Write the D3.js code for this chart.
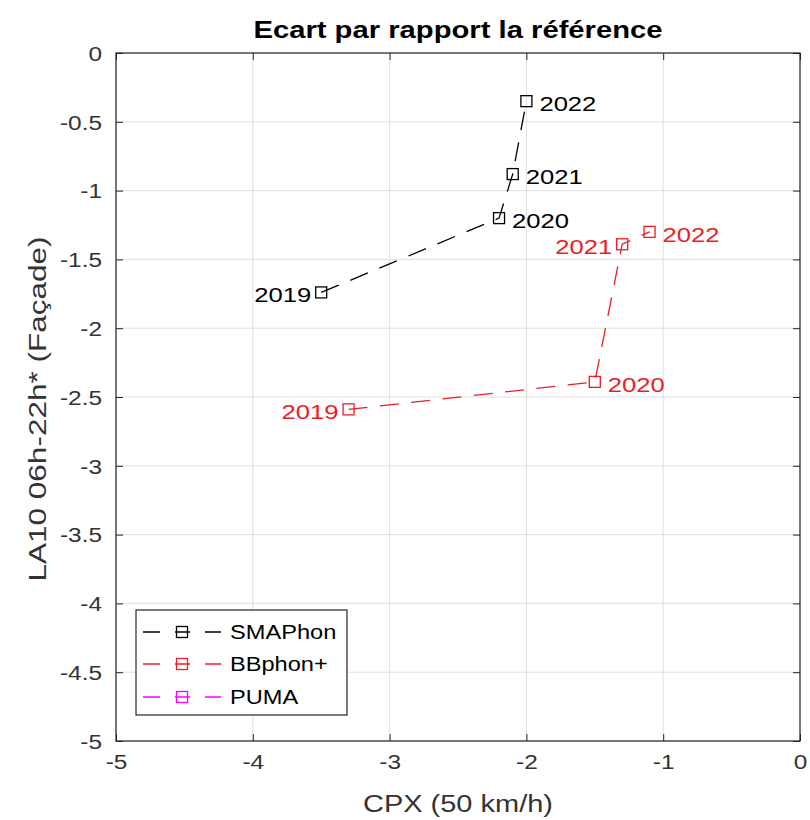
<!DOCTYPE html>
<html>
<head>
<meta charset="utf-8">
<script src="https://cdn.jsdelivr.net/npm/d3@7"></script>
<style>
  html, body { margin: 0; padding: 0; background: #fff; }
  svg { display: block; font-family: "Liberation Sans", Arial, Helvetica, sans-serif; }
</style>
</head>
<body>
<svg id="chart" width="810" height="820"></svg>
<script>
// ---- data ----
const years = ["2019", "2020", "2021", "2022"];
const smaphonX = [-3.5, -2.2, -2.1, -2.0];
const smaphonY = [-1.74, -1.2, -0.88, -0.35];
const bbphonX = [-3.3, -1.5, -1.3, -1.1];
const bbphonY = [-2.59, -2.39, -1.39, -1.3];
const pumaX = [];
const pumaY = [];
const seriesNames = ["SMAPhon", "BBphon+", "PUMA"];
const xTicks = [-5, -4, -3, -2, -1, 0];
const yTicks = [0, -0.5, -1, -1.5, -2, -2.5, -3, -3.5, -4, -4.5, -5];
const titleText = "Ecart par rapport la référence";
const xLabelText = "CPX (50 km/h)";
const yLabelText = "LA10 06h-22h* (Façade)";
// label side for each year label
const smaphonSides = ["left", "right", "right", "right"];
const bbphonSides = ["left", "right", "left", "right"];

// ---- layout ----
const L = 116, R = 800, T = 53, B = 741;
const axisColor = "#262626";
const gridColor = "#e0e0e0";
const colors = ["#000000", "#ee1c25", "#ff00ff"];

const svg = d3.select("#chart");
const x = d3.scaleLinear().domain([-5, 0]).range([L, R]);
const y = d3.scaleLinear().domain([0, -5]).range([T, B]);

function stretch(sel, k) {
  sel.each(function () {
    const len = this.getComputedTextLength();
    d3.select(this).attr("textLength", len * k).attr("lengthAdjust", "spacingAndGlyphs");
  });
}

// grid
const grid = svg.append("g");
grid.selectAll("line.gx").data(xTicks).join("line")
  .attr("x1", d => x(d)).attr("x2", d => x(d)).attr("y1", T).attr("y2", B)
  .attr("stroke", gridColor).attr("stroke-width", 1);
grid.selectAll("line.gy").data(yTicks).join("line")
  .attr("y1", d => y(d)).attr("y2", d => y(d)).attr("x1", L).attr("x2", R)
  .attr("stroke", gridColor).attr("stroke-width", 1);

// axes (ticks inside)
const tickLen = 7;
const fmt = d => String(d);
const xAxisB = d3.axisBottom(x).tickValues(xTicks).tickSizeInner(-tickLen).tickSizeOuter(0).tickPadding(14).tickFormat(fmt);
const xAxisT = d3.axisTop(x).tickValues(xTicks).tickSizeInner(-tickLen).tickSizeOuter(0).tickFormat("");
const yAxisL = d3.axisLeft(y).tickValues(yTicks).tickSizeInner(-tickLen).tickSizeOuter(0).tickPadding(14).tickFormat(fmt);
const yAxisR = d3.axisRight(y).tickValues(yTicks).tickSizeInner(-tickLen).tickSizeOuter(0).tickFormat("");

function styleAxis(g) {
  g.select(".domain").remove();
  g.selectAll(".tick line").attr("stroke", axisColor).attr("stroke-width", 1);
  g.selectAll(".tick text").attr("fill", "#333").style("font-size", "20px")
    .style("font-family", '"Liberation Sans", Arial, sans-serif');
}
const gxB = svg.append("g").attr("transform", `translate(0,${B})`).call(xAxisB).call(styleAxis);
gxB.selectAll(".tick text").attr("dy", "0.71em");
stretch(gxB.selectAll(".tick text"), 1.22);
svg.append("g").attr("transform", `translate(0,${T})`).call(xAxisT).call(styleAxis);
const gyL = svg.append("g").attr("transform", `translate(${L},0)`).call(yAxisL).call(styleAxis);
gyL.selectAll(".tick text").attr("dy", "0.36em");
stretch(gyL.selectAll(".tick text"), 1.22);
svg.append("g").attr("transform", `translate(${R},0)`).call(yAxisR).call(styleAxis);

// box
svg.append("rect").attr("x", L).attr("y", T).attr("width", R - L).attr("height", B - T)
  .attr("fill", "none").attr("stroke", axisColor).attr("stroke-width", 1.2);

// series
const series = [
  { name: seriesNames[0], xs: smaphonX, ys: smaphonY, sides: smaphonSides, color: colors[0] },
  { name: seriesNames[1], xs: bbphonX, ys: bbphonY, sides: bbphonSides, color: colors[1] },
  { name: seriesNames[2], xs: pumaX, ys: pumaY, sides: [], color: colors[2] }
];
const line = d3.line().x(d => x(d[0])).y(d => y(d[1]));
const ms = 11;
series.forEach(s => {
  const pts = s.xs.map((v, i) => [v, s.ys[i], years[i], s.sides[i]]);
  if (!pts.length) return;
  const g = svg.append("g");
  g.append("path").datum(pts).attr("d", line).attr("fill", "none")
    .attr("stroke", s.color).attr("stroke-width", 1.3).attr("stroke-dasharray", "19,12.5");
  g.selectAll("rect").data(pts).join("rect")
    .attr("x", d => x(d[0]) - ms / 2).attr("y", d => y(d[1]) - ms / 2)
    .attr("width", ms).attr("height", ms)
    .attr("fill", "none").attr("stroke", s.color).attr("stroke-width", 1.3);
  const t = g.selectAll("text").data(pts).join("text")
    .attr("x", d => d[3] === "left" ? x(d[0]) - 10 : x(d[0]) + 13)
    .attr("y", d => y(d[1]) + 10)
    .attr("text-anchor", d => d[3] === "left" ? "end" : "start")
    .attr("fill", s.color).style("font-size", "20px")
    .text(d => d[2]);
  stretch(t, 1.28);
});

// title
const title = svg.append("text").attr("x", (L + R) / 2).attr("y", 38).attr("text-anchor", "middle")
  .attr("fill", "#000").style("font-size", "23px").style("font-weight", "bold").text(titleText);
stretch(title, 1.27);

// x label
const xl = svg.append("text").attr("x", (L + R) / 2).attr("y", 812).attr("text-anchor", "middle")
  .attr("fill", "#333").style("font-size", "23px").text(xLabelText);
stretch(xl, 1.26);

// y label
const yl = svg.append("text").attr("transform", `translate(46,409) rotate(-90)`).attr("text-anchor", "middle")
  .attr("fill", "#333").style("font-size", "23px").text(yLabelText);
stretch(yl, 1.37);

// legend
const lg = svg.append("g");
lg.append("rect").attr("x", 136).attr("y", 610).attr("width", 211).attr("height", 105)
  .attr("fill", "#fff").attr("stroke", axisColor).attr("stroke-width", 1.2);
const legY = [632, 664, 697];
series.forEach((s, i) => {
  const cy = legY[i];
  lg.append("line").attr("x1", 143).attr("x2", 223).attr("y1", cy).attr("y2", cy)
    .attr("stroke", s.color).attr("stroke-width", 1.3).attr("stroke-dasharray", "17,15,15,15,16,40");
  lg.append("rect").attr("x", 182 - ms / 2).attr("y", cy - ms / 2).attr("width", ms).attr("height", ms)
    .attr("fill", "none").attr("stroke", s.color).attr("stroke-width", 1.3);
  const lt = lg.append("text").attr("x", 230).attr("y", cy + 7).attr("fill", "#000")
    .style("font-size", "20px").text(s.name);
  stretch(lt, 1.18);
});
</script>
</body>
</html>
